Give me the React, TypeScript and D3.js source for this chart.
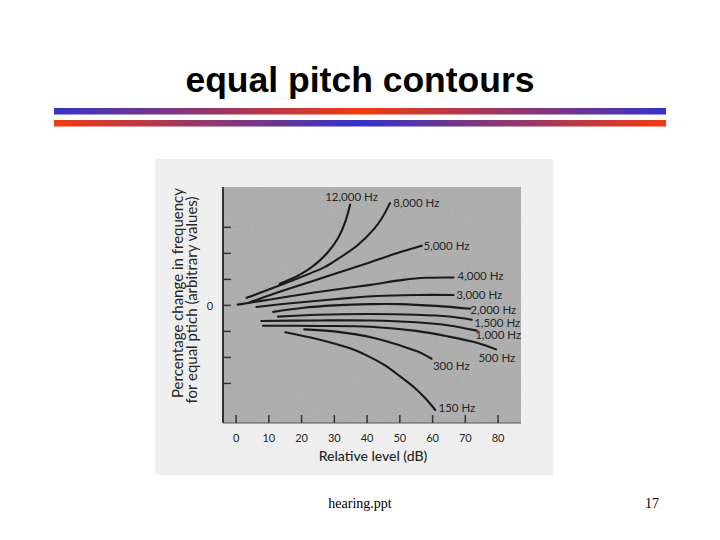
import React from "react";
import * as d3 from "d3";

const xTicks = [0, 10, 20, 30, 40, 50, 60, 70, 80];
const yTicks = [-3, -2, -1, 0, 1, 2, 3];
const seriesNames = ["12,000 Hz", "8,000 Hz", "5,000 Hz", "4,000 Hz", "3,000 Hz", "2,000 Hz", "1,500 Hz", "1,000 Hz", "500 Hz", "300 Hz", "150 Hz"];

// [dB, value] pairs
const hz12000: [number, number][] = [[13.3, 0.83], [18, 1.08], [22, 1.37], [25.5, 1.72], [28.2, 2.07], [31.2, 2.6], [33.3, 3.2], [34.8, 3.87]];
const hz8000: [number, number][] = [[3.2, 0.29], [14, 0.8], [23, 1.25], [27, 1.47], [31, 1.78], [37, 2.3], [42, 2.92], [44.5, 3.35], [47, 3.93]];
const hz5000: [number, number][] = [[4.2, 0.12], [14, 0.55], [23, 0.92], [34, 1.37], [41, 1.66], [49, 2.0], [56.7, 2.29]];
const hz4000: [number, number][] = [[0.5, 0.03], [10, 0.22], [20, 0.42], [30, 0.6], [41, 0.79], [51, 0.98], [58, 1.06], [66.4, 1.07]];
const hz3000: [number, number][] = [[6.2, -0.06], [15, 0.06], [25, 0.18], [35, 0.29], [43, 0.36], [55, 0.4], [66.4, 0.4]];
const hz2000: [number, number][] = [[11.3, -0.25], [20, -0.1], [30, 0.0], [41, 0.05], [50, 0.05], [61, -0.02], [71.5, -0.13]];
const hz1500: [number, number][] = [[12.8, -0.43], [25, -0.36], [41, -0.33], [55, -0.36], [65, -0.43], [72, -0.55]];
const hz1000: [number, number][] = [[7.7, -0.6], [25, -0.58], [41, -0.58], [55, -0.65], [65, -0.77], [73.5, -0.97]];
const hz500: [number, number][] = [[8.2, -0.78], [25, -0.79], [41, -0.82], [55, -0.98], [65, -1.2], [73, -1.42], [79.4, -1.69]];
const hz300: [number, number][] = [[20.8, -0.92], [30, -1.0], [42.4, -1.26], [51, -1.58], [56, -1.8], [59.7, -2.05]];
const hz150: [number, number][] = [[15, -1.03], [25, -1.3], [35, -1.66], [40, -1.93], [45, -2.27], [50, -2.72], [55, -3.22], [58, -3.6], [60.8, -4.02]];
const seriesData = [hz12000, hz8000, hz5000, hz4000, hz3000, hz2000, hz1500, hz1000, hz500, hz300, hz150];
// label anchors (dB, value) of the text start
const labelAt: [number, number][] = [[27.2, 4.18], [48.0, 3.97], [57.2, 2.29], [67.6, 1.15], [67.2, 0.43], [71.5, -0.15], [72.7, -0.65], [73.0, -1.1], [74.0, -1.99], [60.1, -2.31], [61.8, -3.93]];

export default function App() {
  const W = 720, H = 540;
  const x = d3.scaleLinear().domain([-4, 87]).range([223, 521]);
  const y = d3.scaleLinear().domain([-4.52, 4.55]).range([423, 187]);
  const line = d3.line<[number, number]>().x(d => x(d[0])).y(d => y(d[1])).curve(d3.curveCatmullRom.alpha(0.5));
  const font = "Lato, 'Open Sans', sans-serif";
  const ink = "#262626";
  return (
    <svg width={W} height={H} style={{ position: "absolute", left: 0, top: 0 }}>
      <defs>
        <linearGradient id="g1" x1="0" x2="1" y1="0" y2="0">
          <stop offset="0" stopColor="#3434c8" />
          <stop offset="0.5" stopColor="#f23a10" />
          <stop offset="1" stopColor="#3434c8" />
        </linearGradient>
        <linearGradient id="g2" x1="0" x2="1" y1="0" y2="0">
          <stop offset="0" stopColor="#f23a10" />
          <stop offset="0.5" stopColor="#3434c8" />
          <stop offset="1" stopColor="#f23a10" />
        </linearGradient>
        <filter id="grain" x="0" y="0" width="100%" height="100%">
          <feTurbulence type="fractalNoise" baseFrequency="0.9" numOctaves={2} seed={3} result="n" />
          <feColorMatrix in="n" type="matrix" values="0 0 0 0 0  0 0 0 0 0  0 0 0 0 0  0 0 0 0.18 0" result="a" />
          <feComposite in="a" in2="SourceGraphic" operator="in" result="b" />
          <feMerge>
            <feMergeNode in="SourceGraphic" />
            <feMergeNode in="b" />
          </feMerge>
        </filter>
      </defs>
      <rect x={0} y={0} width={W} height={H} fill="#fff" />
      <text x={360} y={92} textAnchor="middle" fontFamily="'Liberation Sans', Arial, sans-serif" fontWeight="bold" fontSize={35.5}>equal pitch contours</text>
      <rect x={54} y={108} width={612} height={6.5} fill="url(#g1)" />
      <rect x={54} y={120} width={612} height={6.5} fill="url(#g2)" />

      <rect x={155} y={159} width={398} height={316} fill="#efefef" />
      <rect x={x(-4)} y={y(4.55)} width={x(87) - x(-4)} height={y(-4.52) - y(4.55)} fill="#b6b6b6" filter="url(#grain)" />
      <line x1={x(-4)} x2={x(-4)} y1={y(4.55)} y2={y(-4.52)} stroke="#333" strokeWidth={2} />
      <line x1={x(-4)} x2={x(87)} y1={y(-4.52)} y2={y(-4.52)} stroke="#555" strokeWidth={1.2} />
      {yTicks.map(t => (
        <line key={"yt" + t} x1={x(-4)} x2={x(-4) + 8} y1={y(t)} y2={y(t)} stroke="#333" strokeWidth={1.5} />
      ))}
      {xTicks.map(t => (
        <g key={"xt" + t}>
          <line x1={x(t)} x2={x(t)} y1={y(-4.52)} y2={y(-4.52) - 8} stroke="#333" strokeWidth={1.5} />
          <text x={x(t)} y={437} textAnchor="middle" dominantBaseline="central" fontFamily={font} fontSize={11} fill={ink}>{t}</text>
        </g>
      ))}
      <text x={210} y={y(0)} textAnchor="middle" dominantBaseline="central" fontFamily={font} fontSize={11} fill={ink}>0</text>
      <text x={373} y={455} textAnchor="middle" dominantBaseline="central" fontFamily={font} fontSize={14} fontWeight={500} fill={ink}>Relative level (dB)</text>
      <text transform="translate(177,293) rotate(-90)" textAnchor="middle" dominantBaseline="central" fontFamily={font} fontSize={15} fill={ink}>Percentage change in frequency</text>
      <text transform="translate(191,300) rotate(-90)" textAnchor="middle" dominantBaseline="central" fontFamily={font} fontSize={15} fill={ink}>for equal ptich (arbitrary values)</text>

      {seriesData.map((s, i) => (
        <path key={"s" + i} d={line(s) || ""} fill="none" stroke="#1a1a1a" strokeWidth={2.1} strokeLinecap="round" />
      ))}
      {seriesNames.map((n, i) => (
        <text key={"l" + i} x={x(labelAt[i][0])} y={y(labelAt[i][1])} dominantBaseline="central" fontFamily={font} fontSize={11.5} fill={ink}>{n}</text>
      ))}

      <text x={360} y={508} textAnchor="middle" fontFamily="'Liberation Serif', 'Times New Roman', serif" fontSize={14}>hearing.ppt</text>
      <text x={652} y={508} textAnchor="middle" fontFamily="'Liberation Serif', 'Times New Roman', serif" fontSize={14}>17</text>
    </svg>
  );
}
